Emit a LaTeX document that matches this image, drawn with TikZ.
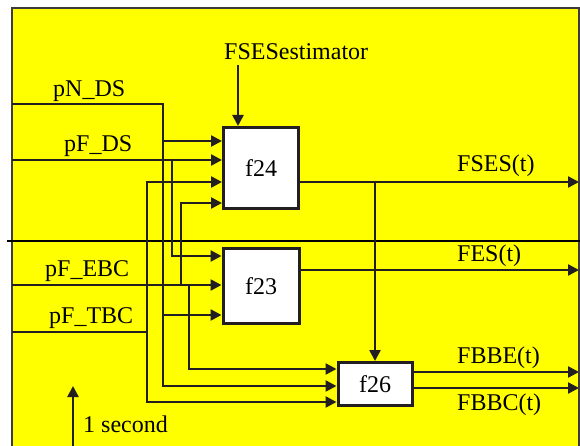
\documentclass[tikz,border=0pt]{standalone}
\usepackage{fontspec}
\setmainfont{Liberation Serif}
\usetikzlibrary{arrows.meta,positioning,calc}
\definecolor{sheetyellow}{HTML}{FFFF00}
\definecolor{wireink}{HTML}{231F20}
\definecolor{frameink}{HTML}{3C3C3C}
\tikzset{
  fblock/.style={rectangle, draw=wireink, line width=3pt, fill=white, align=center, font=\fontsize{24}{28}\selectfont},
  sig/.style={inner sep=0pt, anchor=base west, font=\fontsize{24}{28}\selectfont},
  wire/.style={draw=wireink, line width=2.4pt},
  flow/.style={wire, -{Triangle[length=11pt,width=11pt]}},
}
\begin{document}
\begin{tikzpicture}[x=1pt,y=-1pt]
  \useasboundingbox (0,0) rectangle (580,446);
  \clip (0,0) rectangle (580,446);
  \filldraw[fill=sheetyellow, draw=frameink, line width=2pt] (12,8) rectangle (579,470);
  \draw[black, line width=2.2pt] (7,241) -- (580,241);

  \node[fblock, minimum width=75pt, minimum height=81pt] (f24) at (261,168) {f24};
  \node[fblock, minimum width=76pt, minimum height=75pt, below=37pt of f24] (f23) {f23};
  \node[fblock, minimum width=74pt, minimum height=43pt, below right=36pt and 36pt of f23] (f26) {f26};

  \node[sig] (est) at (224,60) {FSESestimator};
  \node[sig] (lpNDS) at (53,97) {pN\_DS};
  \node[sig] (lpFDS) at (64,152) {pF\_DS};
  \node[sig] (lpEBC) at (45,276) {pF\_EBC};
  \node[sig] (lpTBC) at (49,323) {pF\_TBC};
  \node[sig] (lsec) at (83,432) {1 second};
  \node[sig] (lFSES) at (457,172) {FSES(t)};
  \node[sig] (lFES) at (457,261) {FES(t)};
  \node[sig] (lFBBE) at (457,363) {FBBE(t)};
  \node[sig] (lFBBC) at (457,410) {FBBC(t)};

  \coordinate (inN) at (12,104);
  \coordinate (inDS) at (12,160);
  \coordinate (inEBC) at (12,285);
  \coordinate (inTBC) at (12,332);
  \coordinate (estTail) at (238,65);
  \coordinate (oFSES) at (579,182);
  \coordinate (oFES) at (579,270);
  \coordinate (oFBBE) at (579,372);
  \coordinate (oFBBC) at (579,388);
  \coordinate (tickTail) at (73,446);
  \coordinate (tickTip) at (73,386);

  \draw[flow] (estTail) -- (f24.north -| estTail);

  \draw[flow] (inN) -| (163,386) -- (f26.west |- 0,386);
  \draw[flow] (163,141) -- (f24.west |- 0,141);
  \draw[flow] (163,315) -- (f23.west |- 0,315);

  \draw[flow] (inDS) -- (f24.west |- inDS);
  \draw[flow] (172,160) |- (f23.west |- 0,256);

  \draw[flow] (inEBC) -- (f23.west |- inEBC);
  \draw[flow] (181,285) |- (f24.west |- 0,203);
  \draw[flow] (189,285) |- (f26.west |- 0,369);

  \draw[flow] (inTBC) -| (147,182) -- (f24.west |- 0,182);
  \draw[flow] (147,332) |- (f26.west |- 0,402);

  \draw[flow] (f24.east |- oFSES) -- (oFSES);
  \draw[flow] (f26.north |- oFSES) -- (f26.north);
  \draw[flow] (f23.east |- oFES) -- (oFES);
  \draw[flow] (f26.east |- oFBBE) -- (oFBBE);
  \draw[flow] (f26.east |- oFBBC) -- (oFBBC);

  \draw[flow] (tickTail) -- (tickTip);
\end{tikzpicture}
\end{document}
